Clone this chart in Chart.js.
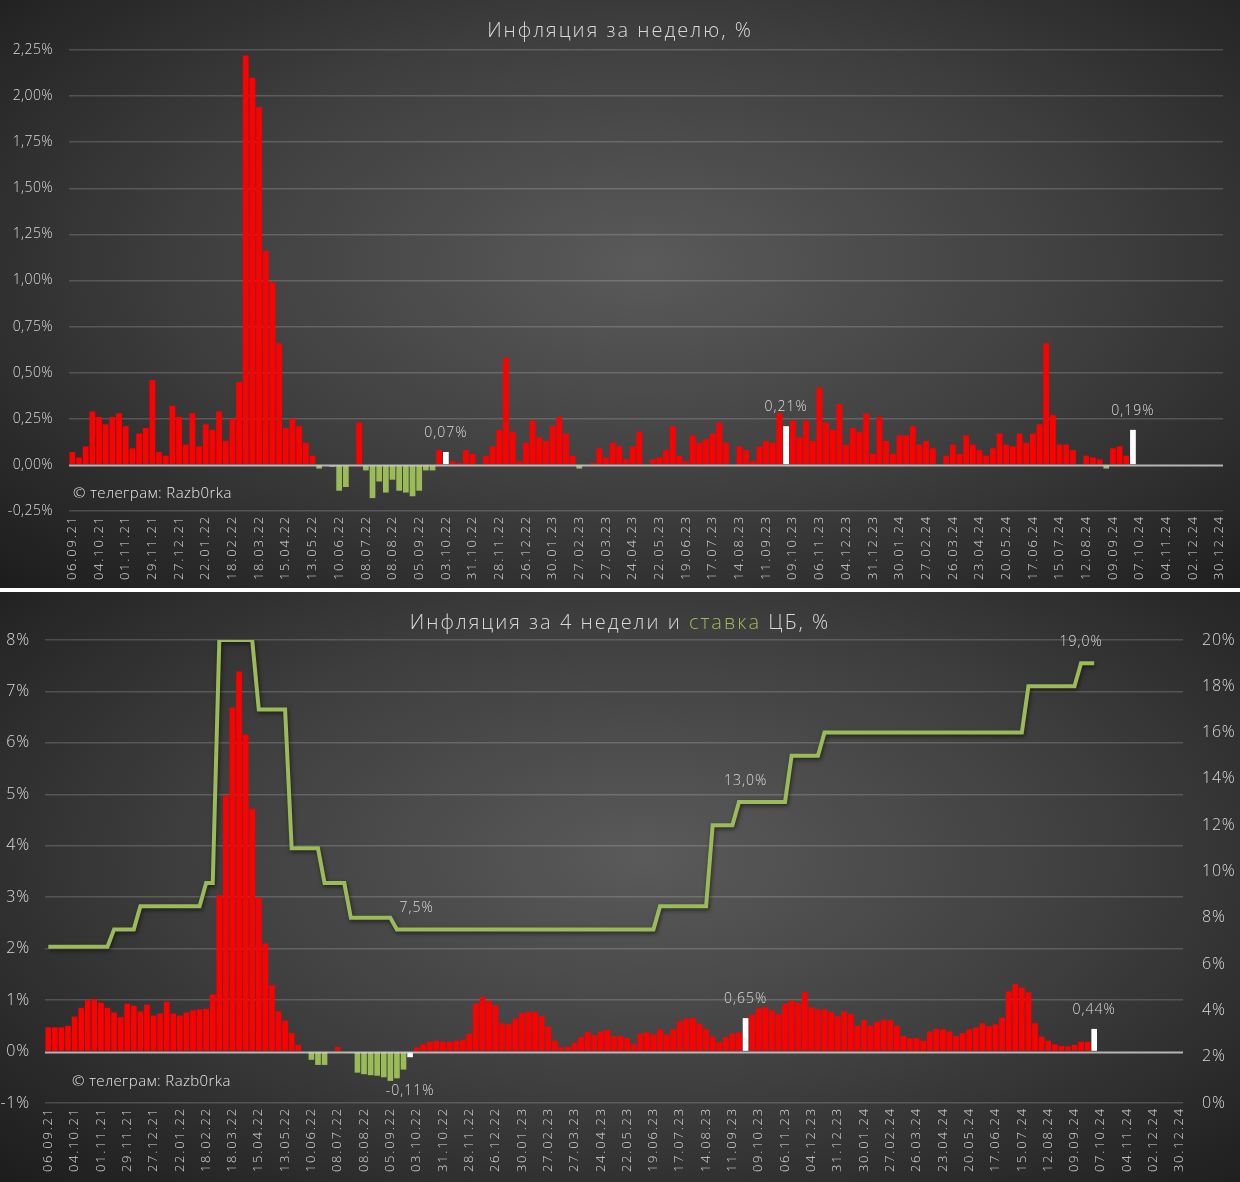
<!DOCTYPE html>
<html lang="ru">
<head>
<meta charset="utf-8">
<script src="https://cdn.jsdelivr.net/npm/chart.js@4.4.1/dist/chart.umd.min.js"></script>
<style>
  html, body { margin: 0; padding: 0; background: #fff; }
  body { width: 1240px; height: 1182px; position: relative; overflow: hidden; font-family: 'Open Sans', sans-serif; }
  .panel { position: absolute; left: 0; width: 1240px;
    background: radial-gradient(ellipse 72% 78% at 52% 45%, #5a5a5a 0%, #3f3f3f 50%, #1d1d1d 100%); }
  #p1 { top: 0; height: 588px; }
  #p2 { top: 592px; height: 590px; }
  .title { position: absolute; left: 0; top: 16px; width: 1240px; text-align: center; color: #d9d9d9;
    font-size: 20px; font-weight: 300; letter-spacing: 2px; line-height: 28px; }
  .title .rate { color: #9bbb59; }
  .wm { position: absolute; color: #e6e6e6; font-size: 15px; font-weight: 300; letter-spacing: 0.4px; line-height: 20px; }
  canvas { position: absolute; left: 0; top: 0; }
</style>
</head>
<body>
<div class="panel" id="p1">
  <canvas id="weekChart" width="1240" height="588"></canvas>
  <div class="title">Инфляция за неделю, %</div>
  <div class="wm" style="left:73px;top:482px">© телеграм: Razb0rka</div>
</div>
<div class="panel" id="p2">
  <canvas id="monthChart" width="1240" height="590"></canvas>
  <div class="title">Инфляция за 4 недели и <span class="rate">ставка</span> ЦБ, %</div>
  <div class="wm" style="left:72px;top:478px">© телеграм: Razb0rka</div>
</div>

<script>
// ═══════════════════════════════════════
// DATA
// ═══════════════════════════════════════
const tickLabels = [
  '06.09.21','04.10.21','01.11.21','29.11.21','27.12.21','22.01.22','18.02.22','18.03.22',
  '15.04.22','13.05.22','10.06.22','08.07.22','08.08.22','05.09.22','03.10.22','31.10.22',
  '28.11.22','26.12.22','30.01.23','27.02.23','27.03.23','24.04.23','22.05.23','19.06.23',
  '17.07.23','14.08.23','11.09.23','09.10.23','06.11.23','04.12.23','31.12.23','30.01.24',
  '27.02.24','26.03.24','23.04.24','20.05.24','17.06.24','15.07.24','12.08.24','09.09.24',
  '07.10.24','04.11.24','02.12.24','30.12.24'
];

// weekly inflation, %
const weekly = [
  0.07,0.04,0.10,0.29,0.26,0.22,0.26,0.28,0.21,0.09,
  0.17,0.20,0.46,0.07,0.05,0.32,0.26,0.11,0.28,0.10,
  0.22,0.19,0.29,0.13,0.25,0.45,2.22,2.10,1.94,1.16,
  0.99,0.66,0.20,0.25,0.21,0.12,0.05,-0.02,0.00,-0.01,
  -0.14,-0.12,0.00,0.23,-0.03,-0.18,-0.09,-0.15,-0.08,-0.14,
  -0.15,-0.17,-0.14,-0.03,-0.03,0.08,0.07,0.02,0.01,0.08,
  0.06,0.00,0.05,0.10,0.19,0.58,0.18,0.02,0.12,0.24,
  0.15,0.13,0.21,0.26,0.17,0.05,-0.02,0.00,0.01,0.09,
  0.04,0.12,0.10,0.03,0.10,0.18,0.00,0.03,0.04,0.08,
  0.21,0.05,0.02,0.16,0.12,0.14,0.17,0.23,0.12,0.00,
  0.10,0.08,0.02,0.10,0.13,0.12,0.28,0.21,0.24,0.15,
  0.24,0.13,0.42,0.23,0.19,0.33,0.11,0.20,0.18,0.28,
  0.06,0.26,0.13,0.06,0.16,0.16,0.21,0.11,0.13,0.09,
  0.00,0.05,0.11,0.06,0.16,0.11,0.08,0.05,0.09,0.17,
  0.11,0.10,0.17,0.12,0.17,0.22,0.66,0.27,0.11,0.11,
  0.08,0.00,0.05,0.04,0.03,-0.02,0.09,0.10,0.05,0.19
];

// inflation over 4 weeks, %
const fourWeek = [
  0.47,0.47,0.47,0.50,0.68,0.85,1.00,1.02,0.95,0.85,
  0.76,0.67,0.93,0.89,0.78,0.91,0.70,0.74,0.97,0.74,
  0.70,0.76,0.80,0.82,0.83,1.11,3.04,4.98,6.69,7.39,
  6.16,4.72,2.99,2.10,1.29,0.78,0.60,0.36,0.13,0.00,
  -0.16,-0.26,-0.26,0.00,0.09,0.00,-0.02,-0.41,-0.44,-0.46,
  -0.47,-0.50,-0.57,-0.52,-0.35,-0.11,0.08,0.14,0.19,0.21,
  0.19,0.19,0.21,0.23,0.35,0.93,1.06,0.98,0.90,0.55,
  0.53,0.64,0.75,0.77,0.77,0.69,0.48,0.21,0.08,0.09,
  0.17,0.28,0.38,0.32,0.39,0.42,0.30,0.30,0.26,0.14,
  0.35,0.37,0.33,0.43,0.33,0.43,0.59,0.64,0.65,0.54,
  0.44,0.29,0.18,0.28,0.35,0.37,0.65,0.72,0.84,0.86,
  0.80,0.73,0.93,0.99,0.95,1.16,0.86,0.82,0.82,0.77,
  0.69,0.78,0.73,0.50,0.61,0.50,0.58,0.62,0.61,0.50,
  0.30,0.26,0.26,0.21,0.39,0.44,0.43,0.39,0.30,0.36,
  0.43,0.47,0.55,0.49,0.53,0.66,1.17,1.31,1.24,1.15,
  0.55,0.29,0.21,0.14,0.11,0.10,0.13,0.19,0.19,0.44
];

// CBR key rate, %
const keyRate = [
  6.75,6.75,6.75,6.75,6.75,6.75,6.75,6.75,6.75,6.75,
  7.5,7.5,7.5,7.5,8.5,8.5,8.5,8.5,8.5,8.5,
  8.5,8.5,8.5,8.5,9.5,9.5,20,20,20,20,
  20,20,17,17,17,17,17,11,11,11,
  11,11,9.5,9.5,9.5,9.5,8,8,8,8,
  8,8,8,7.5,7.5,7.5,7.5,7.5,7.5,7.5,
  7.5,7.5,7.5,7.5,7.5,7.5,7.5,7.5,7.5,7.5,
  7.5,7.5,7.5,7.5,7.5,7.5,7.5,7.5,7.5,7.5,
  7.5,7.5,7.5,7.5,7.5,7.5,7.5,7.5,7.5,7.5,
  7.5,7.5,7.5,8.5,8.5,8.5,8.5,8.5,8.5,8.5,
  8.5,12,12,12,12,13,13,13,13,13,
  13,13,13,15,15,15,15,15,16,16,
  16,16,16,16,16,16,16,16,16,16,
  16,16,16,16,16,16,16,16,16,16,
  16,16,16,16,16,16,16,16,16,18,
  18,18,18,18,18,18,18,19,19,19
];

// highlighted (white) bars and labelled points
const markedWeek = [56, 107, 159];
const markedFourWeek = [55, 106, 159];
const labelledRate = [56, 106, 157];

// one category per week, a tick label every 4 weeks
const categories = [];
for (let i = 0; i < (tickLabels.length - 1) * 4 + 1; i++) {
  categories.push(i % 4 === 0 ? tickLabels[i / 4] : '');
}

// ═══════════════════════════════════════
// HELPERS / PLUGINS
// ═══════════════════════════════════════
const RED = '#ff0000', GREEN = '#9bbb59', WHITE = '#ffffff';
const TXT = '#d9d9d9';
const FONT = "'Open Sans', sans-serif";
const fmt = (v, d) => v.toFixed(d).replace('.', ',');

function barColor(marked) {
  return ctx => marked.includes(ctx.dataIndex) ? WHITE : (ctx.raw < 0 ? GREEN : RED);
}

function zeroLine(axisId) {
  return {
    id: 'zeroLine',
    afterDatasetsDraw(chart) {
      const { ctx, chartArea } = chart;
      const y = Math.round(chart.scales[axisId].getPixelForValue(0)) + 0.5;
      ctx.save();
      ctx.strokeStyle = 'rgba(215,215,215,0.8)';
      ctx.lineWidth = 2;
      ctx.beginPath();
      ctx.moveTo(chartArea.left, y);
      ctx.lineTo(chartArea.right, y);
      ctx.stroke();
      ctx.restore();
    }
  };
}

// items: {ds, i, dec, above, below}
function valueLabels(items) {
  return {
    id: 'valueLabels',
    afterDatasetsDraw(chart) {
      const ctx = chart.ctx;
      ctx.save();
      ctx.letterSpacing = '1px';
      ctx.font = '300 14px ' + FONT;
      ctx.fillStyle = TXT;
      ctx.textAlign = 'center';
      ctx.textBaseline = 'middle';
      items.forEach(it => {
        const el = chart.getDatasetMeta(it.ds).data[it.i];
        const v = chart.data.datasets[it.ds].data[it.i];
        ctx.fillText(fmt(v, it.dec) + '%', el.x, el.y + (v < 0 ? it.below : it.above));
      });
      ctx.restore();
    }
  };
}

// y labels drawn under datasets, x labels (ticks.z:1) after them -> different spacing
function letterSpacing(ySp, xSp) {
  return {
    id: 'letterSpacing',
    beforeDraw(chart) { chart.ctx.letterSpacing = ySp; },
    afterDatasetsDraw(chart) { chart.ctx.letterSpacing = xSp; },
    afterDraw(chart) { chart.ctx.letterSpacing = '0px'; }
  };
}

const lineShadow = {
  id: 'lineShadow',
  beforeDatasetDraw(chart, args) {
    if (args.meta.type !== 'line') return;
    const ctx = chart.ctx;
    ctx.save();
    ctx.shadowColor = 'rgba(0,0,0,0.55)';
    ctx.shadowBlur = 4;
    ctx.shadowOffsetX = 1;
    ctx.shadowOffsetY = 2;
  },
  afterDatasetDraw(chart, args) {
    if (args.meta.type !== 'line') return;
    chart.ctx.restore();
  }
};

const xAxis = height => ({
  grid: { display: false, drawTicks: false },
  border: { display: false },
  ticks: {
    z: 1,
    autoSkip: false, maxRotation: 90, minRotation: 90, padding: 4,
    color: TXT, font: { family: FONT, size: 13, weight: 300 },
    callback(v) { return this.getLabelForValue(v); }
  },
  afterFit(s) { s.height = height; }
});

const gridColor = c => c.tick.value === 0 ? 'rgba(0,0,0,0)' : 'rgba(255,255,255,0.17)';

// ═══════════════════════════════════════
// WEEKLY CHART
// ═══════════════════════════════════════
new Chart(document.getElementById('weekChart'), {
  type: 'bar',
  data: {
    labels: categories,
    datasets: [{
      data: weekly,
      backgroundColor: barColor(markedWeek),
      borderWidth: 0,
      barPercentage: 1,
      categoryPercentage: 0.86
    }]
  },
  options: {
    responsive: false,
    animation: false,
    events: [],
    layout: { padding: { top: 50, right: 17, left: 0, bottom: 0 } },
    plugins: { legend: { display: false }, tooltip: { enabled: false } },
    scales: {
      x: xAxis(77),
      y: {
        min: -0.25, max: 2.25,
        ticks: { stepSize: 0.25, padding: 16, color: TXT, font: { family: FONT, size: 14, weight: 300 },
          callback: v => fmt(v, 2) + '%' },
        grid: { color: gridColor, lineWidth: 1.5, drawTicks: false },
        border: { display: false },
        afterFit(s) { s.width = 69; }
      }
    }
  },
  plugins: [
    letterSpacing('0.4px', '1.8px'),
    zeroLine('y'),
    valueLabels(markedWeek.map(i => ({ ds: 0, i, dec: 2, above: -19, below: 30 })))
  ]
});

// ═══════════════════════════════════════
// 4-WEEK + KEY RATE CHART
// ═══════════════════════════════════════
new Chart(document.getElementById('monthChart'), {
  type: 'bar',
  data: {
    labels: categories,
    datasets: [{
      type: 'line',
      data: keyRate,
      yAxisID: 'y2',
      borderColor: GREEN,
      borderWidth: 4,
      pointRadius: 0,
      tension: 0,
      borderJoinStyle: 'miter',
      order: 0
    }, {
      data: fourWeek,
      yAxisID: 'y',
      backgroundColor: barColor(markedFourWeek),
      borderWidth: 0,
      barPercentage: 1,
      categoryPercentage: 0.86,
      order: 1
    }]
  },
  options: {
    responsive: false,
    animation: false,
    events: [],
    layout: { padding: { top: 48, right: 0, left: 0, bottom: 0 } },
    plugins: { legend: { display: false }, tooltip: { enabled: false } },
    scales: {
      x: xAxis(79),
      y: {
        position: 'left',
        min: -1, max: 8,
        ticks: { stepSize: 1, padding: 15, color: TXT, font: { family: FONT, size: 16, weight: 300 },
          callback: v => v + '%' },
        grid: { color: gridColor, lineWidth: 1.5, drawTicks: false },
        border: { display: false },
        afterFit(s) { s.width = 45; }
      },
      y2: {
        position: 'right',
        min: 0, max: 20,
        ticks: { stepSize: 2, padding: 19, color: TXT, font: { family: FONT, size: 16, weight: 300 },
          callback: v => v + '%' },
        grid: { drawOnChartArea: false, drawTicks: false },
        border: { display: false },
        afterFit(s) { s.width = 57; }
      }
    }
  },
  plugins: [
    letterSpacing('0.8px', '1.8px'),
    lineShadow,
    zeroLine('y'),
    valueLabels(
      markedFourWeek.map(i => ({ ds: 1, i, dec: 2, above: -19, below: 34 }))
        .concat(labelledRate.map(i => ({ ds: 0, i, dec: 1, above: -21, below: -21 })))
    )
  ]
});
</script>
</body>
</html>
